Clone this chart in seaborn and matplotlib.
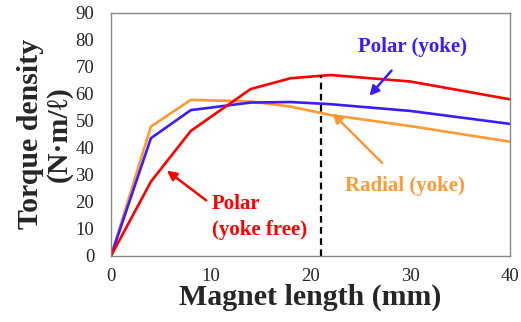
import matplotlib
matplotlib.use("Agg")
import matplotlib.pyplot as plt
import seaborn as sns
import pandas as pd

x_vals = [0, 4, 8, 14, 18, 22, 30, 40]
polar_free = [0, 27.5, 46.3, 61.8, 65.8, 67.0, 64.6, 58.0]
polar_yoke = [0, 43.6, 54.0, 56.8, 57.0, 56.2, 53.7, 48.9]
radial_yoke = [0, 47.9, 57.8, 57.2, 55.3, 52.2, 48.1, 42.3]
x_ticks = [0, 10, 20, 30, 40]
y_ticks = [0, 10, 20, 30, 40, 50, 60, 70, 80, 90]
opt_x = 21.1
opt_y = 67.0

sns.set_style("white")
plt.rcParams['font.family'] = ['Liberation Serif', 'DejaVu Serif']

df = pd.DataFrame({
    "x": x_vals * 3,
    "y": polar_free + polar_yoke + radial_yoke,
    "series": ["Polar (yoke free)"] * len(x_vals) + ["Polar (yoke)"] * len(x_vals) + ["Radial (yoke)"] * len(x_vals),
})
palette = {"Polar (yoke free)": "#ff0000", "Polar (yoke)": "#3a1cff", "Radial (yoke)": "#ff9933"}

fig = plt.figure(figsize=(5.21, 3.22), dpi=100)
ax = fig.add_axes([0.213, 0.205, 0.766, 0.755])
sns.lineplot(data=df, x="x", y="y", hue="series", palette=palette, ax=ax,
             linewidth=1.9, legend=False, hue_order=["Radial (yoke)", "Polar (yoke)", "Polar (yoke free)"])

ax.plot([opt_x, opt_x], [0, opt_y], color="black", linestyle=(0, (3, 2)), linewidth=1.6)

ax.set_xlim(0, 40)
ax.set_ylim(0, 90)
ax.set_xticks(x_ticks)
ax.set_yticks(y_ticks)
ax.tick_params(axis="x", direction="in", length=4, color="#888888", labelsize=13.5, pad=9)
ax.tick_params(axis="y", direction="in", length=4, color="#888888", labelsize=13.5, pad=12)
for s in ax.spines.values():
    s.set_color("#888888")
    s.set_linewidth(1.0)

ax.set_xlabel("Magnet length (mm)", fontsize=21.5, fontweight="bold", labelpad=-1)
ax.set_ylabel("Torque density\n(N·m/ℓ)", fontsize=21.5, fontweight="bold", labelpad=2, linespacing=1.05)

ax.annotate("Polar (yoke)", xy=(25.9, 59.3), xytext=(30.2, 77.4), color="#3a1cff",
            fontsize=15, fontweight="bold", ha="center", va="center",
            arrowprops=dict(arrowstyle="-|>", color="#3a1cff", lw=1.8, shrinkA=10, shrinkB=0, mutation_scale=14))
ax.annotate("Radial (yoke)", xy=(22.2, 52.8), xytext=(29.5, 25.9), color="#ff9933",
            fontsize=15, fontweight="bold", ha="center", va="center",
            arrowprops=dict(arrowstyle="-|>", color="#ff9933", lw=1.8, shrinkA=10, shrinkB=0, mutation_scale=14))
ax.annotate("Polar\n(yoke free)", xy=(5.6, 31.6), xytext=(10.1, 14.4), color="#ff0000",
            fontsize=15, fontweight="bold", ha="left", va="center", linespacing=1.4,
            arrowprops=dict(arrowstyle="-|>", color="#ff0000", lw=1.8, shrinkA=2, shrinkB=0, mutation_scale=14,
                            relpos=(-0.03, 0.82)))

fig.savefig("out.png", dpi=100)
